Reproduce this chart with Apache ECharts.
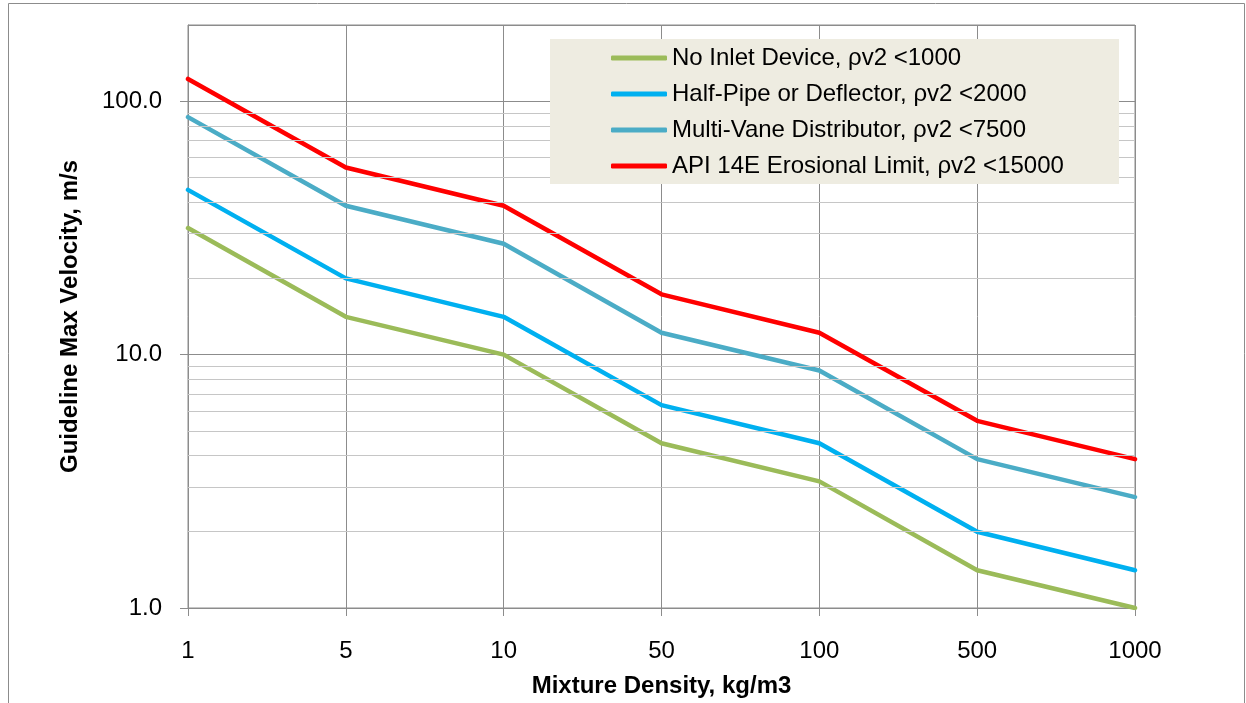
<!DOCTYPE html>
<html>
<head>
<meta charset="utf-8">
<script src="https://cdn.jsdelivr.net/npm/echarts@6/dist/echarts.min.js"></script>
<style>
html,body{margin:0;padding:0;background:#fff;}
#chart{width:1246px;height:703px;}
</style>
</head>
<body>
<div id="chart"></div>
<script>
// Data
const densities = ['1', '5', '10', '50', '100', '500', '1000'];
const seriesNames = [
  'No Inlet Device, \u03c1v2 <1000',
  'Half-Pipe or Deflector, \u03c1v2 <2000',
  'Multi-Vane Distributor, \u03c1v2 <7500',
  'API 14E Erosional Limit, \u03c1v2 <15000'
];
const noInlet   = [31.6, 14.1, 10.0, 4.47, 3.16, 1.41, 1.0];
const halfPipe  = [44.7, 20.0, 14.1, 6.32, 4.47, 2.0, 1.41];
const multiVane = [86.6, 38.7, 27.4, 12.2, 8.66, 3.87, 2.74];
const api14e    = [122.5, 54.8, 38.7, 17.3, 12.2, 5.48, 3.87];
const yMajorTicks = [1, 10, 100];
const yMinorTicks = [2, 3, 4, 5, 6, 7, 8, 9, 20, 30, 40, 50, 60, 70, 80, 90];
const yMin = 1, yMax = 200;

const colors = ['#9BBB59', '#00B0F0', '#4BACC6', '#FF0000'];
const FONT = '"Liberation Sans", Arial, sans-serif';

const chart = echarts.init(document.getElementById('chart'));
const lineSeries = [noInlet, halfPipe, multiVane, api14e].map((d, i) => ({
  name: seriesNames[i],
  type: 'line',
  data: d,
  showSymbol: false,
  symbol: 'none',
  z: 4,
  lineStyle: { color: colors[i], width: 4.5, join: 'round', cap: 'round' },
  itemStyle: { color: colors[i] }
}));

chart.setOption({
  animation: false,
  backgroundColor: '#ffffff',
  textStyle: { fontFamily: FONT },
  graphic: [
    { type: 'rect', z: -10, silent: true,
      shape: { x: 8.5, y: 3.5, width: 1236, height: 760 },
      style: { fill: 'none', stroke: '#8C8C8C', lineWidth: 1 } },
    { type: 'rect', z: 100, zlevel: 0, silent: true,
      shape: { x: 550, y: 39, width: 569, height: 145 },
      style: { fill: '#EEECE1' } }
  ],
  grid: { left: 188, right: 111, top: 25, bottom: 93, show: true,
          borderColor: '#8C8C8C', borderWidth: 1, backgroundColor: 'transparent' },
  legend: {
    data: seriesNames,
    orient: 'vertical',
    left: 611, top: 44,
    padding: 0,
    itemWidth: 56, itemHeight: 5, itemGap: 8,
    icon: 'roundRect',
    z: 200,
    textStyle: { fontFamily: FONT, fontSize: 24, color: '#000', lineHeight: 28 }
  },
  xAxis: {
    type: 'category',
    data: densities,
    boundaryGap: false,
    name: 'Mixture Density, kg/m3',
    nameLocation: 'middle',
    nameGap: 66,
    nameTextStyle: { fontFamily: FONT, fontSize: 24, fontWeight: 'bold', color: '#000' },
    axisLine: { lineStyle: { color: '#8C8C8C', width: 1 } },
    axisTick: { show: true, length: 8, inside: false, lineStyle: { color: '#8C8C8C' } },
    axisLabel: { fontFamily: FONT, fontSize: 24, color: '#000', margin: 31 },
    splitLine: { show: true, lineStyle: { color: '#8C8C8C', width: 1 } }
  },
  yAxis: {
    type: 'log',
    logBase: 10,
    min: yMin, max: yMax,
    name: 'Guideline Max Velocity, m/s',
    nameLocation: 'middle',
    nameGap: 106,
    nameRotate: 90,
    nameTextStyle: { fontFamily: FONT, fontSize: 24, fontWeight: 'bold', color: '#000' },
    axisLine: { show: true, lineStyle: { color: '#8C8C8C', width: 1 } },
    axisTick: { show: true, length: 8, inside: false, lineStyle: { color: '#8C8C8C' } },
    axisLabel: {
      fontFamily: FONT, fontSize: 24, color: '#000', margin: 26,
      showMaxLabel: false,
      formatter: v => yMajorTicks.some(t => Math.abs(t - v) < 1e-6) ? Number(v).toFixed(1) : ''
    },
    splitLine: { show: true, lineStyle: { color: '#8C8C8C', width: 1 } }
  },
  series: [
    {
      type: 'line',
      data: [],
      z: 1,
      silent: true,
      markLine: {
        silent: true,
        symbol: ['none', 'none'],
        label: { show: false },
        lineStyle: { color: '#C6C6C6', width: 1, type: 'solid' },
        emphasis: { disabled: true },
        data: yMinorTicks.map(v => ({ yAxis: v }))
      }
    }
  ].concat(lineSeries)
});
</script>
</body>
</html>
